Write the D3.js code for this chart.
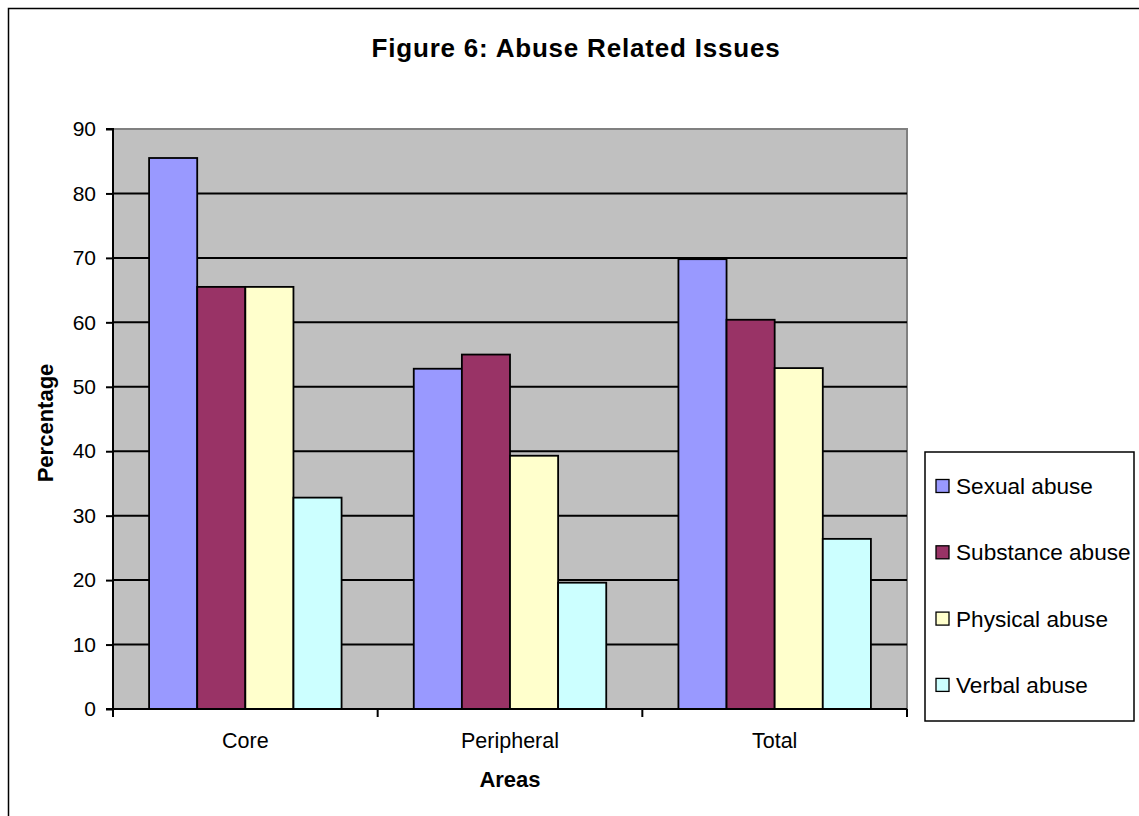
<!DOCTYPE html>
<html><head><meta charset="utf-8">
<script src="https://cdn.jsdelivr.net/npm/d3@7"></script>
<style>html,body{margin:0;padding:0;background:#fff}svg{display:block}</style>
</head><body>
<svg id="c" width="1139" height="816"></svg>
<script>
const categories = ["Core", "Peripheral", "Total"];
const seriesNames = ["Sexual abuse", "Substance abuse", "Physical abuse", "Verbal abuse"];
const sexualAbuse = [85.5, 52.8, 69.8];
const substanceAbuse = [65.5, 55.0, 60.4];
const physicalAbuse = [65.5, 39.3, 52.9];
const verbalAbuse = [32.8, 19.6, 26.4];
const yTicks = [0, 10, 20, 30, 40, 50, 60, 70, 80, 90];
const colors = ["#9999FF", "#993366", "#FFFFCC", "#CCFFFF"];

const seriesValues = [sexualAbuse, substanceAbuse, physicalAbuse, verbalAbuse];
const font = "Liberation Sans, Arial, sans-serif";
const svg = d3.select("#c");

// outer frame
svg.append("path").attr("d", "M8.5,830 V8.5 H1150").attr("fill", "none").attr("stroke", "#000").attr("stroke-width", 1.5);

const L = 113, R = 907, T = 129, B = 709;
const x0 = d3.scaleBand().domain(categories).range([L, R]).paddingInner(0).paddingOuter(0);
const x1 = d3.scaleBand().domain(seriesNames).range([0, x0.bandwidth()]).paddingInner(0).paddingOuter(0.75);
const y = d3.scaleLinear().domain([0, 90]).range([B, T]);

// plot background
svg.append("rect").attr("x", L).attr("y", T).attr("width", R - L).attr("height", B - T).attr("fill", "#C0C0C0");
svg.append("path").attr("d", `M${L},${T} H${R} V${B}`).attr("fill", "none").attr("stroke", "#808080").attr("stroke-width", 2);

// gridlines
svg.append("g").selectAll("line").data(yTicks.filter(d => d > 0 && d < 90)).join("line")
  .attr("x1", L).attr("x2", R).attr("y1", d => y(d)).attr("y2", d => y(d))
  .attr("stroke", "#000").attr("stroke-width", 2);

// bars
const groups = svg.append("g").selectAll("g").data(categories).join("g")
  .attr("transform", d => `translate(${x0(d)},0)`);
groups.selectAll("rect").data((c, ci) => seriesNames.map((s, si) => ({s, si, v: seriesValues[si][ci]}))).join("rect")
  .attr("x", d => x1(d.s)).attr("width", x1.bandwidth())
  .attr("y", d => y(d.v)).attr("height", d => B - y(d.v))
  .attr("fill", d => colors[d.si]).attr("stroke", "#000").attr("stroke-width", 1.8);

// y axis
const yAxis = svg.append("g").attr("transform", `translate(${L},0)`)
  .call(d3.axisLeft(y).tickValues(yTicks).tickSize(7).tickPadding(10).tickFormat(d3.format("d")));
yAxis.select(".domain").attr("stroke", "#000").attr("stroke-width", 2).attr("d", `M-7,${T}H0V${B}H-7`);
yAxis.selectAll(".tick line").attr("stroke", "#000").attr("stroke-width", 2);
yAxis.selectAll("text").attr("font-family", font).attr("font-size", 21).attr("fill", "#000");

// x axis
const xAxis = svg.append("g").attr("transform", `translate(0,${B})`)
  .call(d3.axisBottom(x0).tickSize(0).tickPadding(24));
xAxis.select(".domain").attr("stroke", "#000").attr("stroke-width", 2).attr("d", `M${L},0H${R}`);
xAxis.selectAll("text").attr("font-family", font).attr("font-size", 21.5).attr("fill", "#000");
const bounds = [L].concat(categories.map(c => x0(c) + x0.bandwidth()));
xAxis.selectAll(".bt").data(bounds).join("line").attr("class", "bt")
  .attr("x1", d => d).attr("x2", d => d).attr("y1", 0).attr("y2", 8)
  .attr("stroke", "#000").attr("stroke-width", 2);

// title
svg.append("text").attr("x", 576).attr("y", 56.5).attr("text-anchor", "middle")
  .attr("font-family", font).attr("font-weight", "bold").attr("font-size", 26)
  .attr("letter-spacing", 0.8).text("Figure 6: Abuse Related Issues");
// axis titles
svg.append("text").attr("x", 510).attr("y", 787).attr("text-anchor", "middle")
  .attr("font-family", font).attr("font-weight", "bold").attr("font-size", 22).text("Areas");
svg.append("text").attr("transform", "translate(53,423) rotate(-90)").attr("text-anchor", "middle")
  .attr("font-family", font).attr("font-weight", "bold").attr("font-size", 22).text("Percentage");

// legend
const lg = svg.append("g");
lg.append("rect").attr("x", 925).attr("y", 452).attr("width", 209).attr("height", 269)
  .attr("fill", "#fff").attr("stroke", "#000").attr("stroke-width", 1.5);
const li = lg.selectAll("g").data(seriesNames).join("g")
  .attr("transform", (d, i) => `translate(936,${486 + i * 66.3})`);
li.append("rect").attr("x", 0).attr("y", -6.5).attr("width", 13).attr("height", 13)
  .attr("fill", (d, i) => colors[i]).attr("stroke", "#000").attr("stroke-width", 1.3);
li.append("text").attr("x", 20).attr("y", 0).attr("dy", "0.35em")
  .attr("font-family", font).attr("font-size", 22.6).text(d => d);
</script>
</body></html>
